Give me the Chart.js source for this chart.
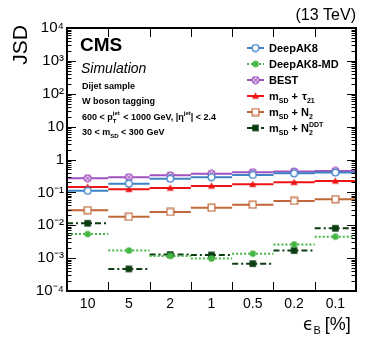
<!DOCTYPE html>
<html><head><meta charset="utf-8">
<script src="https://cdn.jsdelivr.net/npm/chart.js@4/dist/chart.umd.min.js"></script>
<style>html,body{margin:0;padding:0;background:#fff}#w{width:374px;height:343px}</style>
</head><body><div id="w"><canvas id="c" width="374" height="343"></canvas></div>
<script>
const categories = ["10", "5", "2", "1", "0.5", "0.2", "0.1"];
const yTickLabels = {"-4":"10\u207B\u2074","-3":"10\u207B\u00B3","-2":"10\u207B\u00B2","-1":"10\u207B\u00B9","0":"1","1":"10","2":"10\u00B2","3":"10\u00B3","4":"10\u2074"};
const deepAK8   = [0.112, 0.184, 0.26, 0.29, 0.34, 0.38, 0.40];
const deepAK8MD = [0.0054, 0.0017, 0.00117, 0.00097, 0.00137, 0.0026, 0.0045];
const best      = [0.27, 0.29, 0.33, 0.37, 0.41, 0.43, 0.45];
const msdTau21  = [0.146, 0.124, 0.136, 0.157, 0.176, 0.203, 0.222];
const msdN2     = [0.0286, 0.0182, 0.0254, 0.0343, 0.0423, 0.055, 0.062];
const msdN2DDT  = [0.0115, 0.00047, 0.00128, 0.00125, 0.00068, 0.0017, 0.0081];

const FONT = "'Liberation Sans', Arial, Helvetica, sans-serif";

function markerCanvas(kind, color){
  const s = 9, c = document.createElement('canvas'); c.width = s; c.height = s;
  const g = c.getContext('2d'); g.strokeStyle = color; g.fillStyle = color; g.lineWidth = 1.2;
  const m = s/2;
  if (kind === 'circx'){
    g.beginPath(); g.arc(m, m, 3.4, 0, Math.PI*2); g.fillStyle='#fff'; g.fill(); g.stroke();
    g.beginPath(); g.moveTo(m-2.4,m-2.4); g.lineTo(m+2.4,m+2.4); g.moveTo(m+2.4,m-2.4); g.lineTo(m-2.4,m+2.4); g.stroke();
  } else if (kind === 'ocirc'){
    g.beginPath(); g.arc(m, m, 3.4, 0, Math.PI*2); g.fillStyle='#fff'; g.fill(); g.stroke();
  } else if (kind === 'fcirc'){
    g.beginPath(); g.arc(m, m, 3.2, 0, Math.PI*2); g.fill();
  } else if (kind === 'tri'){
    g.beginPath(); g.moveTo(m, m-3.6); g.lineTo(m+3.6, m+2.8); g.lineTo(m-3.6, m+2.8); g.closePath(); g.fill();
  } else if (kind === 'osq'){
    g.fillStyle='#fff'; g.fillRect(m-3.4, m-3.4, 6.8, 6.8); g.strokeRect(m-3.4, m-3.4, 6.8, 6.8);
  } else if (kind === 'fsq'){
    g.fillRect(m-3.3, m-3.3, 6.6, 6.6);
  }
  return c;
}

const series = [
  {name:"DeepAK8",    values:deepAK8,   color:"#3e83c6", dash:[],        marker:'ocirc'},
  {name:"DeepAK8-MD", values:deepAK8MD, color:"#45b545", dash:[2,2],     marker:'fcirc'},
  {name:"BEST",       values:best,      color:"#a052bf", dash:[],        marker:'circx'},
  {name:"mSD+tau21",  values:msdTau21,  color:"#f01414", dash:[],        marker:'tri'},
  {name:"mSD+N2",     values:msdN2,     color:"#c0683a", dash:[],        marker:'osq'},
  {name:"mSD+N2DDT",  values:msdN2DDT,  color:"#0c3d12", dash:[6,3,2,3], marker:'fsq'}
];
series.forEach(s => s.img = markerCanvas(s.marker, s.color));

function segData(vals){
  const d = [];
  vals.forEach((v,i) => { d.push({x:i-0.5,y:v},{x:i,y:v},{x:i+0.5,y:v},{x:i+0.5,y:null}); });
  return d;
}

const datasets = series.map(s => ({
  label: s.name, data: segData(s.values), borderColor: s.color, backgroundColor: s.color,
  borderWidth: 2, borderDash: s.dash, spanGaps: false, tension: 0,
  pointStyle: s.img,
  pointRadius: ctx => (ctx.dataIndex % 4 === 1 ? 4 : 0),
  pointHoverRadius: 0
}));

const decorations = {
  id: 'decor',
  afterDraw(chart){
    const ctx = chart.ctx, a = chart.chartArea, ys = chart.scales.y, xs = chart.scales.x;
    ctx.save();
    ctx.strokeStyle = '#000'; ctx.lineWidth = 1;
    for (let e = -4; e <= 4; e++){
      for (let m = 1; m <= 9; m++){
        const v = m * Math.pow(10, e);
        if (v > 1e4 + 1) break;
        const py = Math.round(ys.getPixelForValue(v)) + 0.5;
        const L = m === 1 ? 9 : 4.5;
        ctx.beginPath();
        ctx.moveTo(a.left, py); ctx.lineTo(a.left + L, py);
        ctx.moveTo(a.right, py); ctx.lineTo(a.right - L, py);
        ctx.stroke();
      }
    }
    for (let k = 0; k < categories.length - 1; k++){
      const px = Math.round(xs.getPixelForValue(k + 0.5)) + 0.5;
      ctx.beginPath();
      ctx.moveTo(px, a.bottom); ctx.lineTo(px, a.bottom - 9);
      ctx.moveTo(px, a.top); ctx.lineTo(px, a.top + 9);
      ctx.stroke();
    }
    ctx.lineWidth = 2;
    ctx.strokeRect(a.left, a.top, a.right - a.left, a.bottom - a.top);

    ctx.fillStyle = '#000';
    ctx.save();
    ctx.translate(27, a.top - 3); ctx.rotate(-Math.PI/2);
    ctx.font = `21px ${FONT}`; ctx.textAlign = 'right'; ctx.textBaseline = 'alphabetic';
    ctx.fillText('JSD', 0, 0);
    ctx.restore();
    ctx.font = `16px ${FONT}`; ctx.textAlign = 'right';
    ctx.fillText('(13 TeV)', a.right, 20);
    ctx.textAlign = 'left';
    ctx.font = `bold 19px ${FONT}`; ctx.fillText('CMS', 80, 51);
    ctx.font = `italic 14px ${FONT}`; ctx.fillText('Simulation', 81, 73);
    ctx.font = `bold 9px ${FONT}`;
    ctx.fillText('Dijet sample', 82, 89);
    ctx.fillText('W boson tagging', 82, 104);
    let x = 82, y = 120;
    const put = (t, f, dy) => { ctx.font = f; ctx.fillText(t, x, y + (dy||0)); x += ctx.measureText(t).width; };
    const B = `bold 9px ${FONT}`, S = `bold 6px ${FONT}`;
    put('600 < p', B);
    const xp = x; put('T', S, 3); x = xp; put('jet', S, -5);
    x += 1; put(' < 1000 GeV, |\u03B7', B); put('jet', S, -5); put('| < 2.4', B);
    x = 82; y = 135;
    put('30 < m', B); put('SD', S, 3); put(' < 300 GeV', B);

    const rows = [48, 64, 80, 96, 112, 128];
    series.forEach((s, i) => {
      const ry = rows[i];
      ctx.strokeStyle = s.color; ctx.lineWidth = 2; ctx.setLineDash(s.dash);
      ctx.beginPath(); ctx.moveTo(247, ry); ctx.lineTo(264, ry); ctx.stroke();
      ctx.setLineDash([]);
      ctx.drawImage(s.img, 255.5 - s.img.width/2, ry - s.img.height/2);
      ctx.fillStyle = '#000';
      x = 269; y = ry + 4;
      const LB = `bold 11px ${FONT}`, LS = `bold 7px ${FONT}`;
      if (i === 0) put('DeepAK8', LB);
      else if (i === 1) put('DeepAK8-MD', LB);
      else if (i === 2) put('BEST', LB);
      else {
        put('m', LB); put('SD', LS, 3); put(' + ', LB);
        if (i === 3){ x += 1; put('\u03C4', LB); put('21', LS, 3); }
        else if (i === 4){ put('N', LB); put('2', LS, 3); }
        else { put('N', LB); const x1 = x; put('2', LS, 3); x = x1; put('DDT', LS, -5); }
      }
    });
    ctx.fillStyle = '#000';
    ctx.textAlign = 'left';
    x = 303; y = 330;
    put('\u03F5', `17px 'DejaVu Sans', sans-serif`);
    put('B', `11px ${FONT}`, 4);
    x += 4; put('[%]', `18px ${FONT}`);
    ctx.restore();
  }
};

new Chart(document.getElementById('c'), {
  type: 'line',
  data: { datasets },
  options: {
    responsive: false, animation: false, devicePixelRatio: 1,
    layout: { padding: { top: 28, right: 18, left: 0, bottom: 0 } },
    plugins: { legend: { display: false }, tooltip: { enabled: false } },
    scales: {
      x: {
        type: 'linear', min: -0.5, max: 6.5,
        afterBuildTicks: sc => { sc.ticks = categories.map((c, i) => ({ value: i })); },
        afterFit: sc => { sc.height = 52; },
        grid: { display: false, drawTicks: false }, border: { display: false },
        ticks: { autoSkip: false, maxRotation: 0, padding: 5, color: '#000',
          font: { family: FONT, size: 14 },
          callback: v => categories[v] }
      },
      y: {
        type: 'logarithmic', min: 1e-4, max: 1e4,
        afterBuildTicks: sc => { const t = []; for (let e = -4; e <= 4; e++) t.push({ value: Math.pow(10, e) }); sc.ticks = t; },
        afterFit: sc => { sc.width = 67; },
        grid: { display: false, drawTicks: false }, border: { display: false },
        ticks: { padding: 3, color: '#000', font: { family: FONT, size: 15 },
          callback: v => yTickLabels[String(Math.round(Math.log10(v)))] }
      }
    }
  },
  plugins: [decorations]
});
</script></body></html>
